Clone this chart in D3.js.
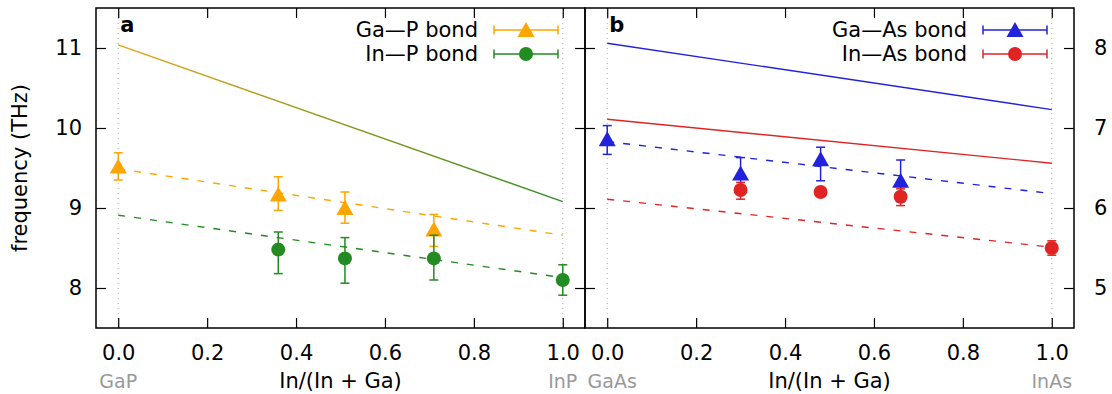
<!DOCTYPE html>
<html>
<head>
<meta charset="utf-8">
<style>
  body { margin: 0; background: #fff; }
  svg { font-family: "DejaVu Sans", sans-serif; }
</style>
</head>
<body>
<svg id="chart"></svg>
<script src="https://cdn.jsdelivr.net/npm/d3@7/dist/d3.min.js"></script>
<script>
// ---- data ----
var xTicks = [0, 0.2, 0.4, 0.6, 0.8, 1.0];
var yTicksA = [8, 9, 10, 11];
var yTicksB = [5, 6, 7, 8];

// panel a : phosphides
var gapX  = [0, 0.36, 0.51, 0.71];
var gapY  = [9.52, 9.17, 9.00, 8.73];
var gapLo = [9.35, 8.97, 8.81, 8.52];
var gapHi = [9.69, 9.39, 9.20, 8.92];

var inpX  = [0.36, 0.51, 0.71, 1.0];
var inpY  = [8.48, 8.37, 8.37, 8.10];
var inpLo = [8.18, 8.06, 8.10, 7.91];
var inpHi = [8.70, 8.63, 8.66, 8.29];

var lineAx = [0, 1];
var solidA = [11.04, 9.08];      // upper solid line (orange -> green)
var dashGaP = [9.49, 8.66];
var dashInP = [8.91, 8.13];

// panel b : arsenides
var gaasX  = [0, 0.30, 0.48, 0.66];
var gaasY  = [6.86, 6.43, 6.61, 6.34];
var gaasLo = [6.67, 6.23, 6.34, 6.08];
var gaasHi = [7.03, 6.63, 6.76, 6.60];

var inasX  = [0.30, 0.48, 0.66, 1.0];
var inasY  = [6.225, 6.20, 6.14, 5.50];
var inasLo = [6.11, 6.15, 6.03, 5.41];
var inasHi = [6.32, 6.25, 6.24, 5.59];

var solidGaAs = [8.06, 7.23];
var solidInAs = [7.11, 6.56];
var dashGaAs  = [6.83, 6.18];
var dashInAs  = [6.11, 5.51];

var colOrange = "#ffa500", colGreen = "#228b22", colBlue = "#2222dd", colRed = "#e02424";

// ---- layout ----
var W = 1112, H = 394;
var plotTop = 8, plotBottom = 328;
var fs = 21;
var panels = [
  {left: 96, right: 585, yDomain: [7.5, 11.5], ticks: yTicksA, labelsLeft: true,
   letter: "a", names: ["GaP", "InP"], nameShift: [0, 0]},
  {left: 585, right: 1074, yDomain: [4.5, 8.5], ticks: yTicksB, labelsLeft: false,
   letter: "b", names: ["GaAs", "InAs"], nameShift: [5, 0]}
];

var svg = d3.select("#chart").attr("width", W).attr("height", H);

var defs = svg.append("defs");
var grad = defs.append("linearGradient").attr("id", "gradA")
    .attr("x1", "0%").attr("x2", "100%").attr("y1", "0%").attr("y2", "0%");
grad.append("stop").attr("offset", "0%").attr("stop-color", "#e8a317");
grad.append("stop").attr("offset", "100%").attr("stop-color", "#2c8c22");

function tri(g, x, y, w, h, color) {
  var p = "M" + x + "," + (y - h / 2 - 1) + "L" + (x + w / 2) + "," + (y + h / 2) + "L" + (x - w / 2) + "," + (y + h / 2) + "Z";
  g.append("path").attr("d", p).attr("fill", color);
}

function styleAxis(a) {
  a.select(".domain").remove();
  a.selectAll("line").attr("stroke-width", 1.2);
  a.selectAll("text").attr("font-size", fs).attr("font-family", "DejaVu Sans").attr("fill", "#000");
}

function drawPanel(p) {
  var x = d3.scaleLinear().domain([-0.05, 1.05]).range([p.left, p.right]);
  var y = d3.scaleLinear().domain(p.yDomain).range([plotBottom, plotTop]);
  var g = svg.append("g");
  p.x = x; p.y = y; p.g = g;

  // dotted guides at end members
  [0, 1].forEach(function(v) {
    g.append("line").attr("x1", x(v)).attr("x2", x(v)).attr("y1", plotTop).attr("y2", plotBottom)
      .attr("stroke", "#aaa").attr("stroke-width", 1).attr("stroke-dasharray", "1,4");
  });

  // axes (ticks inward on all sides)
  g.append("g").attr("transform", "translate(0," + plotBottom + ")")
    .call(d3.axisBottom(x).tickValues(xTicks).tickSizeInner(-10).tickSizeOuter(0).tickPadding(17)
      .tickFormat(d3.format(".1f")))
    .call(styleAxis);
  g.append("g").attr("transform", "translate(0," + plotTop + ")")
    .call(d3.axisTop(x).tickValues(xTicks).tickSizeInner(-10).tickSizeOuter(0).tickFormat(""))
    .call(styleAxis);

  var yl = d3.axisLeft(y).tickValues(p.ticks).tickSizeInner(-10).tickSizeOuter(0).tickPadding(14)
    .tickFormat(d3.format("d"));
  var yr = d3.axisRight(y).tickValues(p.ticks).tickSizeInner(-10).tickSizeOuter(0).tickPadding(20)
    .tickFormat(d3.format("d"));
  if (!p.labelsLeft) yl.tickFormat("");
  if (p.labelsLeft) yr.tickFormat("");
  g.append("g").attr("transform", "translate(" + p.left + ",0)").call(yl).call(styleAxis);
  g.append("g").attr("transform", "translate(" + p.right + ",0)").call(yr).call(styleAxis);

  // compound names under the ends
  g.append("text").attr("x", x(0) + p.nameShift[0]).attr("y", 388).attr("text-anchor", "middle")
    .attr("font-size", 19).attr("fill", "#999").text(p.names[0]);
  g.append("text").attr("x", x(1) + p.nameShift[1]).attr("y", 388).attr("text-anchor", "middle")
    .attr("font-size", 19).attr("fill", "#999").text(p.names[1]);
  g.append("text").attr("x", (p.left + p.right) / 2).attr("y", 388).attr("text-anchor", "middle")
    .attr("font-size", fs).text("In/(In + Ga)");

  g.append("text").attr("x", x(0) + 2).attr("y", 32).attr("font-size", fs)
    .attr("font-weight", "bold").text(p.letter);
}

panels.forEach(drawPanel);

function fitLine(p, ys, stroke, dashed) {
  var line = d3.line().x(function(d, i) { return p.x(lineAx[i]); }).y(function(d) { return p.y(d); });
  p.g.append("path").attr("d", line(ys)).attr("fill", "none")
    .attr("stroke", stroke).attr("stroke-width", 1.4)
    .attr("stroke-dasharray", dashed ? "7,9" : null);
}

function series(p, xs, ys, lo, hi, color, marker) {
  var g = p.g.append("g");
  xs.forEach(function(v, i) {
    var cx = p.x(v);
    g.append("line").attr("x1", cx).attr("x2", cx).attr("y1", p.y(lo[i])).attr("y2", p.y(hi[i]))
      .attr("stroke", color).attr("stroke-width", 1.5);
    [lo[i], hi[i]].forEach(function(e) {
      g.append("line").attr("x1", cx - 4.5).attr("x2", cx + 4.5).attr("y1", p.y(e)).attr("y2", p.y(e))
        .attr("stroke", color).attr("stroke-width", 1.5);
    });
  });
  xs.forEach(function(v, i) {
    if (marker === "tri") tri(g, p.x(v), p.y(ys[i]), 17, 14, color);
    else g.append("circle").attr("cx", p.x(v)).attr("cy", p.y(ys[i])).attr("r", 7).attr("fill", color);
  });
}

function legendRow(p, yy, label, color, marker) {
  var x1 = p.right - 91, x2 = p.right - 27, xm = (x1 + x2) / 2;
  var g = p.g.append("g");
  g.append("line").attr("x1", x1).attr("x2", x2).attr("y1", yy).attr("y2", yy).attr("stroke", color).attr("stroke-width", 1.5);
  [x1, x2].forEach(function(e) {
    g.append("line").attr("x1", e).attr("x2", e).attr("y1", yy - 4.5).attr("y2", yy + 4.5).attr("stroke", color).attr("stroke-width", 1.5);
  });
  if (marker === "tri") tri(g, xm, yy, 17, 14, color);
  else g.append("circle").attr("cx", xm).attr("cy", yy).attr("r", 7).attr("fill", color);
  g.append("text").attr("x", x1 - 16).attr("y", yy + 7).attr("text-anchor", "end")
    .attr("font-size", fs).text(label);
}

var pa = panels[0], pb = panels[1];
fitLine(pa, solidA, "url(#gradA)", false);
fitLine(pa, dashGaP, colOrange, true);
fitLine(pa, dashInP, colGreen, true);
series(pa, gapX, gapY, gapLo, gapHi, colOrange, "tri");
series(pa, inpX, inpY, inpLo, inpHi, colGreen, "circ");
legendRow(pa, 30, "Ga\u2014P bond", colOrange, "tri");
legendRow(pa, 54, "In\u2014P bond", colGreen, "circ");

fitLine(pb, solidGaAs, colBlue, false);
fitLine(pb, solidInAs, colRed, false);
fitLine(pb, dashGaAs, colBlue, true);
fitLine(pb, dashInAs, colRed, true);
series(pb, gaasX, gaasY, gaasLo, gaasHi, colBlue, "tri");
series(pb, inasX, inasY, inasLo, inasHi, colRed, "circ");
legendRow(pb, 30, "Ga\u2014As bond", colBlue, "tri");
legendRow(pb, 54, "In\u2014As bond", colRed, "circ");

// frames
panels.forEach(function(p) {
  svg.append("rect").attr("x", p.left).attr("y", plotTop).attr("width", p.right - p.left).attr("height", plotBottom - plotTop)
    .attr("fill", "none").attr("stroke", "#000").attr("stroke-width", 1.5);
});

// y label
svg.append("text").attr("transform", "translate(27," + ((plotTop + plotBottom) / 2) + ") rotate(-90)")
  .attr("text-anchor", "middle").attr("font-size", fs).text("frequency (THz)");
</script>
</body>
</html>
